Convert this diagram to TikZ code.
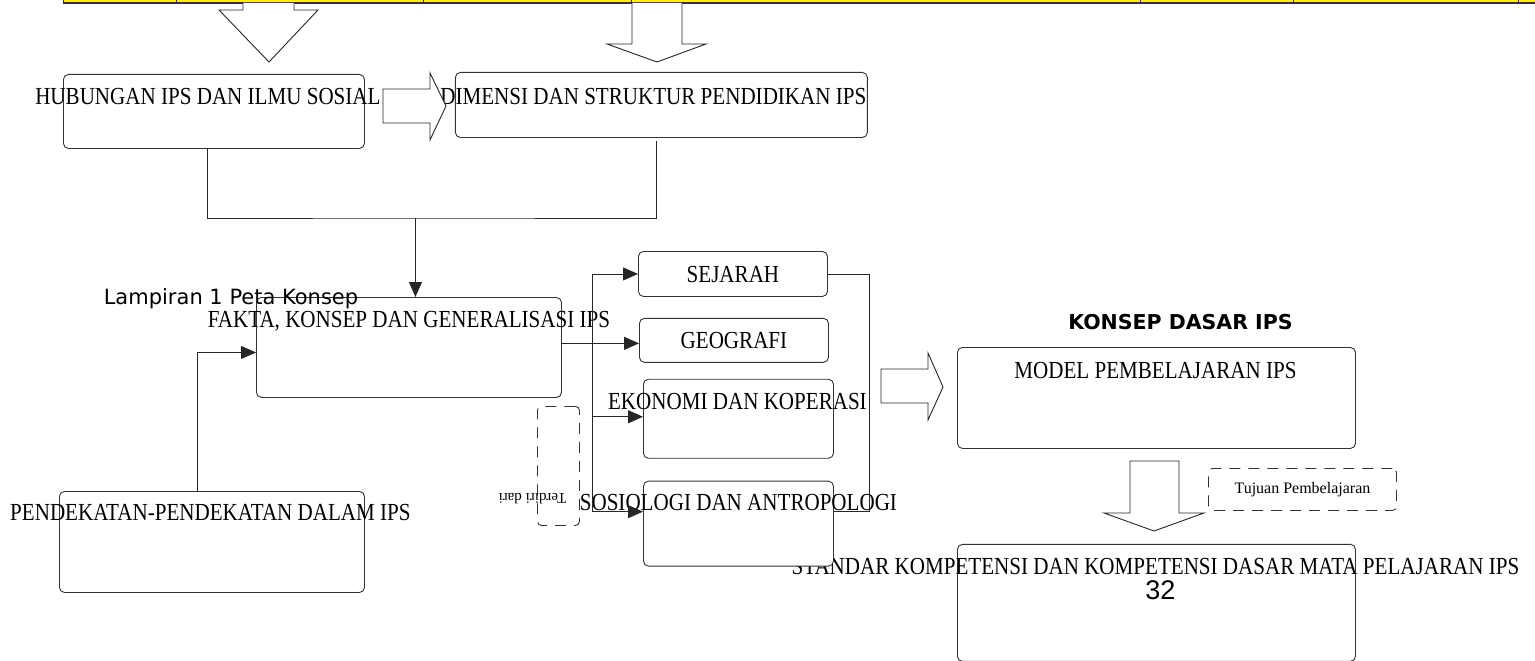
\documentclass[tikz,border=0pt]{standalone}
\usepackage{fontspec}
\setmainfont{Liberation Serif}
\newfontfamily\capsfont{Liberation Serif}[FakeStretch=0.86]
\newfontfamily\dejavu{DejaVu Sans}
\newfontfamily\arialfont{Liberation Sans}
\usetikzlibrary{positioning,arrows.meta}

\begin{document}
\begin{tikzpicture}[x=1pt,y=-1pt,
        box/.style={draw=black!80,fill=white,line width=0.9pt,rounded corners=5pt,inner sep=0pt},
        dbox/.style={box,fill=none,dash pattern=on 11pt off 8pt,rounded corners=4pt},
        txt/.style={inner sep=0pt,font=\capsfont\fontsize{24.5}{28}\selectfont,text height=16.2pt,text depth=0pt},
        line/.style={draw=black!85,line width=0.9pt},
        arr/.style={line,-{Triangle[length=15pt,width=13pt]}},
        blockarrow/.style={draw=black!85,line width=0.9pt,fill=white,line join=miter}]
        \useasboundingbox (0,0) rectangle (1535,661);

        % table strip at the top
        \fill[yellow] (63,0) rectangle (1535,3);
        \draw[black!80,line width=1.4pt] (63,3) -- (1535,3);
        \foreach \x in {63,176,423,631,1140,1293,1518}
            \draw[black!80,line width=0.9pt] (\x,0) -- (\x,3);

        \node[box,anchor=north west,minimum width=301pt,minimum height=74pt] (hub) at (63,74) {};
        \node[box,right=90pt of hub,yshift=6.5pt,minimum width=412pt,minimum height=65pt] (dim) {};
        \node[box,anchor=north west,minimum width=305pt,minimum height=100pt] (fakta) at (256,297) {};
        \node[box,anchor=north west,minimum width=305pt,minimum height=101pt] (pend) at (59,491) {};

        \node[box,anchor=north west,minimum width=398pt,minimum height=101pt] (model) at (957,347) {};
        \node[box,below=95pt of model,minimum width=398pt,minimum height=117pt] (std) {};
        \node[txt] (stdtxt) at ([shift={(-1,22)}]std.north) {STANDAR KOMPETENSI DAN KOMPETENSI DASAR MATA PELAJARAN IPS};

        \node[box,anchor=north west,minimum width=189pt,minimum height=45pt] (sej) at (638,251) {};
        \node[box,below=21pt of sej,xshift=1pt,minimum width=189pt,minimum height=44pt] (geo) {};
        \node[box,below=16pt of geo,xshift=4.5pt,minimum width=190pt,minimum height=79pt] (eko) {};
        \node[box,below=22pt of eko,minimum width=190pt,minimum height=85pt] (sos) {};

        \node[dbox,anchor=north west,minimum width=42pt,minimum height=119pt] (terdiri) at (537,406) {};
        \node[dbox,anchor=north west,minimum width=188pt,minimum height=42pt] (tujuan) at (1208,468) {};

        \node[txt] (hubtxt) at ([shift={(-6,22)}]hub.north) {HUBUNGAN IPS DAN ILMU SOSIAL};
        \node[txt] (dimtxt) at ([shift={(-8,24)}]dim.north) {DIMENSI DAN STRUKTUR PENDIDIKAN IPS};
        \node[txt] (faktatxt) at ([shift={(0,22)}]fakta.north) {FAKTA, KONSEP DAN GENERALISASI IPS};
        \node[txt] (pendtxt) at ([shift={(-1.5,21)}]pend.north) {PENDEKATAN-PENDEKATAN DALAM IPS};
        \node[txt] (sejtxt) at (sej.center) {SEJARAH};
        \node[txt] (geotxt) at (geo.center) {GEOGRAFI};
        \node[txt] (ekotxt) at ([shift={(-1,23)}]eko.north) {EKONOMI DAN KOPERASI};
        \node[txt] (sostxt) at ([shift={(0,22)}]sos.north) {SOSIOLOGI DAN ANTROPOLOGI};
        \node[txt] (modeltxt) at ([shift={(-1,23)}]model.north) {MODEL PEMBELAJARAN IPS};
        \node[inner sep=0pt,font=\fontsize{16}{19}\selectfont] (tujuantxt) at (tujuan.center) {Tujuan Pembelajaran};
        \node[inner sep=0pt,rotate=180,font=\fontsize{15}{18}\selectfont] (terdiritxt) at ([shift={(-26,32.5)}]terdiri.center) {Terdiri dari};

        \node[inner sep=0pt,anchor=base,font=\dejavu\fontsize{21}{25}\selectfont] (lampiran) at ([shift={(-25,7)}]fakta.north west) {Lampiran 1 Peta Konsep};
        \node[inner sep=0pt,anchor=base,font=\dejavu\bfseries\fontsize{20.5}{24}\selectfont] (judul) at ([shift={(24,-18)}]model.north) {KONSEP DASAR IPS};
        \node[inner sep=0pt,anchor=base,font=\arialfont\fontsize{27}{31}\selectfont] (hal) at ([shift={(4,56)}]std.north) {32};

        % hollow block arrows
        \draw[blockarrow] (243,3) -- (243,10) -- (219,10) -- (269,62) -- (318,10) -- (294,10) -- (294,3);
        \draw[blockarrow] (632,3) -- (632,44) -- (607,44) -- (657,62) -- (706,44) -- (682,44) -- (682,3);
        \draw[blockarrow] (383,89) -- (430,89) -- (430,73) -- (446,106) -- (430,140) -- (430,123) -- (383,123) -- cycle;
        \draw[blockarrow] (881,369) -- (928,369) -- (928,353) -- (943,387) -- (928,420) -- (928,403) -- (881,403) -- cycle;
        \draw[blockarrow] (1130,461) -- (1179,461) -- (1179,513) -- (1204,513) -- (1154,531) -- (1104,513) -- (1130,513) -- cycle;

        % connectors
        \coordinate (join) at ([xshift=6.5pt,yshift=79pt]fakta.north);
        \draw[line] ([xshift=-6.5pt]hub.south) |- (join) -| ([xshift=-5pt,yshift=-3pt]dim.south);
        \draw[arr] (join) -- (join |- fakta.north);
        \draw[arr] ([xshift=-14.5pt]pend.north) |- ([yshift=-5pt]fakta.west);
        \draw[arr] ([yshift=-3pt]geo.west -| fakta.east) -- ([yshift=-3pt]geo.west);

        \coordinate (bus) at (592,0);
        \coordinate (ekoin) at ([yshift=2pt]eko.west);
        \coordinate (sosin) at ([yshift=12pt]sos.west);
        \draw[line] (bus |- sej.west) -- (bus |- sosin);
        \foreach \t in {sej.west,ekoin,sosin}
            \draw[arr] (bus |- \t) -- (\t);
        \draw[line] (sej.east) -- ++(42,0) |- ([yshift=12pt]sos.east);
\end{tikzpicture}
\end{document}
